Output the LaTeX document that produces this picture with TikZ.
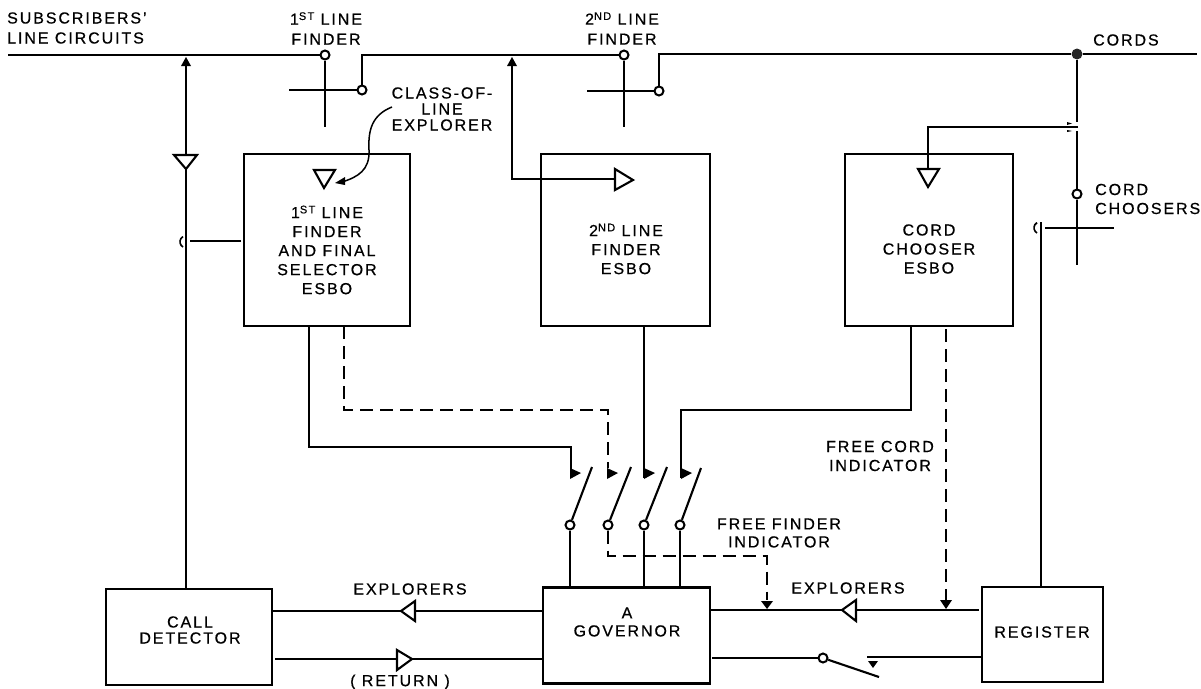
\documentclass[tikz,border=0pt]{standalone}
\usepackage{fontspec}
\setmainfont[LetterSpace=12,BoldFont={Liberation Sans},BoldFeatures={FakeBold=0.6}]{Liberation Sans}
\usetikzlibrary{calc}
\newcommand{\ord}[2]{#1\raisebox{.3em}{\fontsize{11}{11}\selectfont\bfseries #2}}
\tikzset{
  x=1pt,y=-1pt,
  wire/.style={line width=2.1pt,draw=black},
  thick wire/.style={line width=2.9pt,draw=black},
  dash wire/.style={line width=2.3pt,draw=black,dash pattern=on 13pt off 7pt},
  tri/.style={line width=2.1pt,draw=black,fill=white,line join=miter},
  boxn/.style={draw=black,line width=2.2pt,fill=none,inner sep=0pt,align=center},
  ring/.style={circle,draw=black,line width=2pt,fill=white,minimum size=9pt,inner sep=0pt},
  lab/.style={font=\fontsize{16}{14}\selectfont\bfseries,inner sep=0pt,align=center},
  lefttext/.style={lab,anchor=west},
}
\begin{document}
\begin{tikzpicture}
\useasboundingbox (0,0) rectangle (1201,688);
% boxes
\node[boxn,minimum width=166pt,minimum height=172pt] (b1) at (327,240) {};
\node[boxn,minimum width=169pt,minimum height=172pt] (b2) at (625.5,240) {};
\node[boxn,minimum width=168pt,minimum height=172pt] (b3) at (929,240) {};
\node[boxn,minimum width=166pt,minimum height=96pt] (cd) at (189,637) {};
\node[boxn,minimum width=167pt,minimum height=96pt] (gov) at (626.5,635.5) {};
\node[boxn,minimum width=121pt,minimum height=95pt] (reg) at (1042.5,634.5) {};
% rings
\node[ring] (r1a) at (325,55) {};
\node[ring] (r1b) at (362,90) {};
\node[ring] (r2a) at (624,55) {};
\node[ring] (r2b) at (659,91) {};
\node[ring] (r3a) at (1077,194) {};
\node[ring] (s1) at (570,525) {};
\node[ring] (s2) at (608,525) {};
\node[ring] (s3) at (644,525) {};
\node[ring] (s4) at (680,525) {};
\node[ring] (s5) at (823,658) {};
\node[circle,fill=black!85,minimum size=11pt,inner sep=0pt] (dot) at (1077,54) {};
% coordinates
\coordinate (lineL) at (8,55);
\coordinate (cordR) at (1197,54);
\coordinate (up1) at (362,55);
\coordinate (up2) at (659,54);
\coordinate (feedT) at (186,62);
\coordinate (feedB) at (186,589);
\coordinate (tapT) at (512,62);
\coordinate (tapB) at (512,179);
\coordinate (tapE) at (615,179);
\coordinate (c1L) at (289,90);
\coordinate (c1B) at (325,127);
\coordinate (c2L) at (587,91);
\coordinate (c2B) at (624,127);
\coordinate (c3L) at (1114,228);
\coordinate (c3R) at (1045,228);
\coordinate (c3B) at (1077,265);
\coordinate (branchA) at (1078,127);
\coordinate (branchB) at (928,127);
\coordinate (branchC) at (928,169);
\coordinate (vGap1) at (1077,122);
\coordinate (vGap2) at (1077,131);
\coordinate (regUp) at (1041,222);
\coordinate (regUpB) at (1041,587);
\coordinate (b1L) at (241,241);
\coordinate (b1Le) at (190,241);
\coordinate (a1) at (309,326);
\coordinate (a1b) at (309,447);
\coordinate (a1c) at (571,447);
\coordinate (a1d) at (571,478);
\coordinate (d1) at (344,326);
\coordinate (d1b) at (344,410);
\coordinate (d1c) at (608,410);
\coordinate (d1d) at (608,468);
\coordinate (a2) at (644,326);
\coordinate (a2d) at (644,478);
\coordinate (a3) at (911,326);
\coordinate (a3b) at (911,410);
\coordinate (a3c) at (681,410);
\coordinate (a3d) at (681,478);
\coordinate (d2b) at (608,556);
\coordinate (d2c) at (767,556);
\coordinate (d2d) at (767,600);
\coordinate (d3) at (946,329);
\coordinate (d3d) at (946,600);
\coordinate (gs1) at (570,587);
\coordinate (gs3) at (644,587);
\coordinate (gs4) at (680,587);
\coordinate (ex1R) at (542,611);
\coordinate (ex1L) at (272,611);
\coordinate (re1L) at (275,659);
\coordinate (re1R) at (543,659);
\coordinate (ex2R) at (979,610);
\coordinate (ex2L) at (710,610);
\coordinate (sw5L) at (712,658);
\coordinate (sw5tip) at (879,677);
\coordinate (sw5R) at (982,657);
\coordinate (sw5c) at (867,657);
\coordinate (bl1) at (592,467);
\coordinate (bl2) at (631,467);
\coordinate (bl3) at (667,467);
\coordinate (bl4) at (701,468);
% top lines
\draw[wire] (lineL) -- (r1a);
\draw[wire] (r1b) -- (up1) -- (r2a);
\draw[wire] (r2b) -- (up2) -- (dot);
\draw[wire] (dot) -- (cordR);
\draw[thick wire] (r1a) -- (c1B);
\draw[wire] (c1L) -- (r1b);
\draw[thick wire] (r2a) -- (c2B);
\draw[thick wire] (c2L) -- (r2b);
% cord chooser
\draw[wire] (dot) -- (vGap1);
\draw[wire] (vGap2) -- (r3a);
\draw[thick wire] (r3a) -- (c3B);
\draw[wire] (c3R) -- (c3L);
\draw[wire] (branchA) -- (branchB) -- (branchC);
\draw[wire] (regUp) -- (regUpB);
\draw[line width=1.6pt] (1037,233) arc[start angle=120,end angle=240,radius=6];
% feeds
\draw[wire] (feedT) -- (feedB);
\draw[wire] (tapT) -- (tapB) -- (tapE);
\draw[wire] (b1L) -- (b1Le);
\draw[line width=1.6pt] (183,247) arc[start angle=120,end angle=240,radius=6];
% lower risers
\draw[wire] (a1) -- (a1b) -- (a1c) -- (a1d);
\draw[wire] (a2) -- (a2d);
\draw[wire] (a3) -- (a3b) -- (a3c) -- (a3d);
\draw[dash wire] (d1) -- (d1b) -- (d1c) -- (d1d);
\draw[dash wire] (s2) -- (d2b) -- (d2c) -- (d2d);
\draw[dash wire] (d3) -- (d3d);
\draw[wire] (s1) -- (gs1);
\draw[wire] (s3) -- (gs3);
\draw[wire] (s4) -- (gs4);
\draw[wire] (s1) -- (bl1);
\draw[wire] (s2) -- (bl2);
\draw[wire] (s3) -- (bl3);
\draw[wire] (s4) -- (bl4);
% bottom lines
\draw[wire] (ex1R) -- (ex1L);
\draw[wire] (re1L) -- (re1R);
\draw[wire] (ex2R) -- (ex2L);
\draw[wire] (sw5L) -- (s5);
\draw[wire] (s5) -- (sw5tip);
\draw[wire] (sw5R) -- (sw5c);
% open triangles
\draw[tri] (174,155) -- (197,155) -- (186,169) -- cycle;
\draw[tri] (314,170) -- (335,170) -- (324,188) -- cycle;
\draw[tri] (615,169) -- (615,190) -- (633,180) -- cycle;
\draw[tri] (918,169) -- (939,169) -- (928,187) -- cycle;
\draw[tri] (415,601) -- (415,621) -- (401,611) -- cycle;
\draw[tri] (397,650) -- (397,670) -- (412,659) -- cycle;
\draw[tri] (856,600) -- (856,621) -- (842,610) -- cycle;
% solid tips
\fill (186,57) -- (181,66) -- (191,66) -- cycle;
\fill (512,57) -- (507,66) -- (517,66) -- cycle;
\fill (570,468) -- (570,479) -- (581,473) -- cycle;
\fill (607,468) -- (607,479) -- (618,473) -- cycle;
\fill (644,468) -- (644,479) -- (655,473) -- cycle;
\fill (681,468) -- (681,479) -- (692,473) -- cycle;
\fill (761,601) -- (773,601) -- (767,609) -- cycle;
\fill (940,600) -- (952,600) -- (946,609) -- cycle;
\fill (868,661) -- (878,661) -- (873,668) -- cycle;
\fill (1067,122) -- (1072,123.5) -- (1067,125) -- cycle;
\fill (1067,130) -- (1072,131) -- (1067,132) -- cycle;
% explorer curve
\draw[line width=1.5pt] (392,107) .. controls (372,115) and (368,130) .. (369,150) .. controls (370,170) and (358,177) .. (342,182);
\fill (335,183) -- (345,177) -- (345,185) -- cycle;
% labels
\node[lefttext] (tSub1) at (7,18) {SUBSCRIBERS'};
\node[lefttext] (tSub2) at (7,38) {LINE CIRCUITS};
\node[lab] (t1lf) at (326,28.5) {\ord{1}{ST} LINE\\[6pt]FINDER};
\node[lab] (t2lf) at (622,28.5) {\ord{2}{ND} LINE\\[6pt]FINDER};
\node[lefttext] (tCords) at (1093,40) {CORDS};
\node[lefttext,align=left] (tCh) at (1095,199) {CORD\\[5pt]CHOOSERS};
\node[lab] (tCl) at (442,109) {CLASS-OF-\\[2pt]LINE\\[2pt]EXPLORER};
\node[lab] (tb1) at (327,250) {\ord{1}{ST} LINE\\[5pt]FINDER\\[5pt]AND FINAL\\[5pt]SELECTOR\\[5pt]ESBO};
\node[lab] (tb2) at (626,249) {\ord{2}{ND} LINE\\[5pt]FINDER\\[5pt]ESBO};
\node[lab] (tb3) at (929,249) {CORD\\[5pt]CHOOSER\\[5pt]ESBO};
\node[lab] (tFc) at (880,456) {FREE CORD\\[5pt]INDICATOR};
\node[lab] (tFf) at (779,533) {FREE FINDER\\[4pt]INDICATOR};
\node[lab] (tEx1) at (410,589) {EXPLORERS};
\node[lab] (tEx2) at (848,588) {EXPLORERS};
\node[lab] (tRet) at (400,682) {( RETURN )};
\node[lab] (tCd) at (190,630) {CALL\\[2pt]DETECTOR};
\node[lab] (tGov) at (627,622) {A\\[4pt]GOVERNOR};
\node[lab] (tReg) at (1042,632) {REGISTER};
\end{tikzpicture}
\end{document}
